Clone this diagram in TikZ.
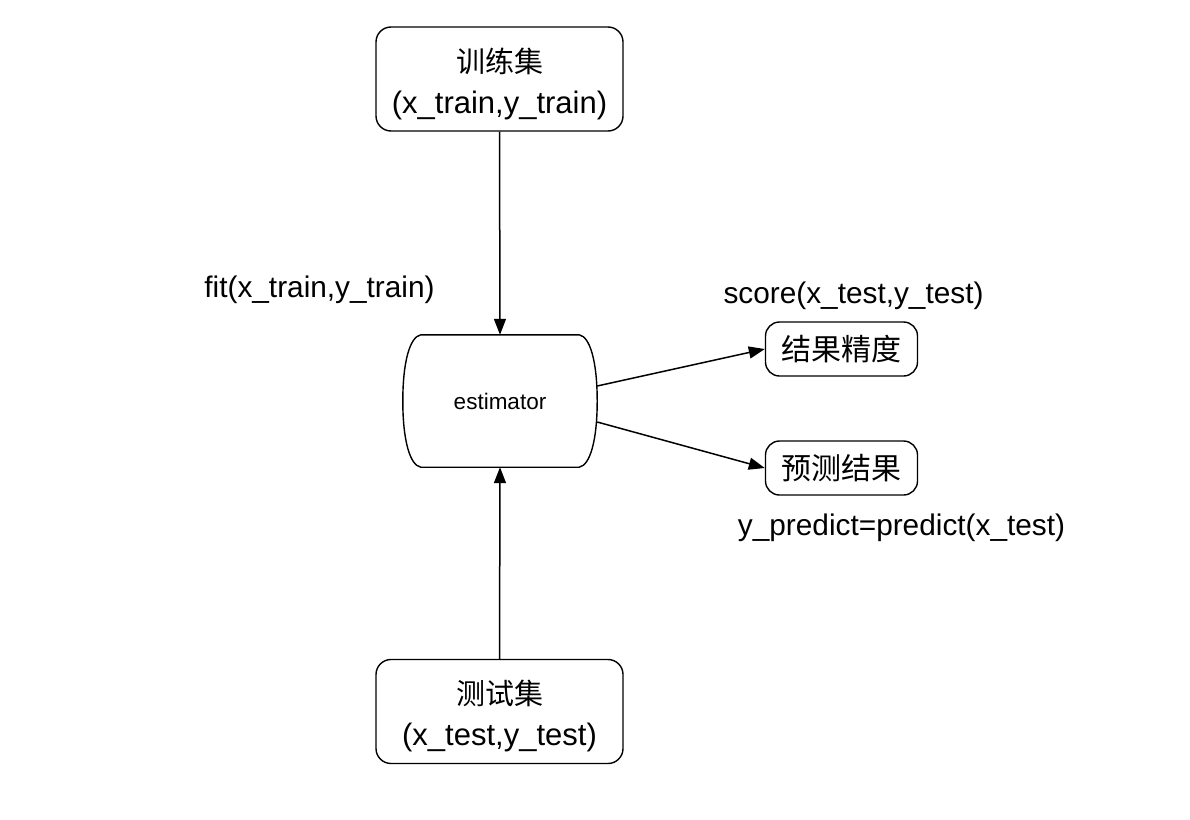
\documentclass[tikz,border=0pt]{standalone}
\usepackage{fontspec}
\setmainfont{Liberation Sans}
\newfontfamily\cjk{Noto Sans CJK SC}
\usetikzlibrary{arrows.meta}
\tikzset{
  bigbox/.style={draw, line width=1.4pt, rounded corners=15pt, minimum width=247pt, minimum height=104pt, align=center, inner sep=0pt, font=\fontsize{31}{41}\selectfont},
  smallbox/.style={draw, line width=1.4pt, rounded corners=14pt, minimum width=152pt, minimum height=54pt, inner sep=0pt, font=\cjk\fontsize{30}{34}\selectfont},
  lbl/.style={inner sep=0pt, font=\fontsize{29.8}{34}\selectfont},
  conn/.style={line width=1.5pt, -{Triangle[length=16pt,width=12pt]}},
}
\begin{document}
\begin{tikzpicture}[x=1pt,y=-1pt]
\useasboundingbox (0,0) rectangle (1190,819);
\node[bigbox] (train) at (499.5,79) {\rule{0pt}{34pt}{\cjk\fontsize{29}{34}\selectfont 训练集}\\(x\_train,y\_train)};
\node[bigbox] (test) at (499.5,711.5) {\rule{0pt}{34pt}{\cjk\fontsize{29}{34}\selectfont 测试集}\\(x\_test,y\_test)};
\node[minimum width=194pt, minimum height=132pt, inner sep=0pt, font=\fontsize{22.5}{25}\selectfont] (est) at (500,401) {estimator};
\draw[line width=1.4pt] ([xshift=18pt]est.north west) -- ([xshift=-18pt]est.north east)
  .. controls ([xshift=-7pt,yshift=-2pt]est.north east) and (est.east |- 0,362) .. (est.east)
  .. controls (est.east |- 0,440) and ([xshift=-7pt,yshift=2pt]est.south east) .. ([xshift=-18pt]est.south east)
  -- ([xshift=18pt]est.south west)
  .. controls ([xshift=7pt,yshift=2pt]est.south west) and (est.west |- 0,440) .. (est.west)
  .. controls (est.west |- 0,362) and ([xshift=7pt,yshift=-2pt]est.north west) .. ([xshift=18pt]est.north west) -- cycle;
\node[smallbox] (acc) at (841.5,349) {结果精度};
\node[smallbox] (pred) at (841.5,468) {预测结果};
\node[lbl] (fitl) at (319.5,290) {fit(x\_train,y\_train)};
\node[lbl] (scorel) at (853.5,296) {score(x\_test,y\_test)};
\node[lbl] (predl) at (901.5,528) {y\_predict=predict(x\_test)};
\draw[conn] (train.south) -- (est.north);
\draw[conn] (test.north) -- (est.south);
\draw[conn] ([yshift=15pt]est.east) -- (acc.west);
\draw[conn] ([yshift=-21pt]est.east) -- (pred.west);
\end{tikzpicture}
\end{document}
